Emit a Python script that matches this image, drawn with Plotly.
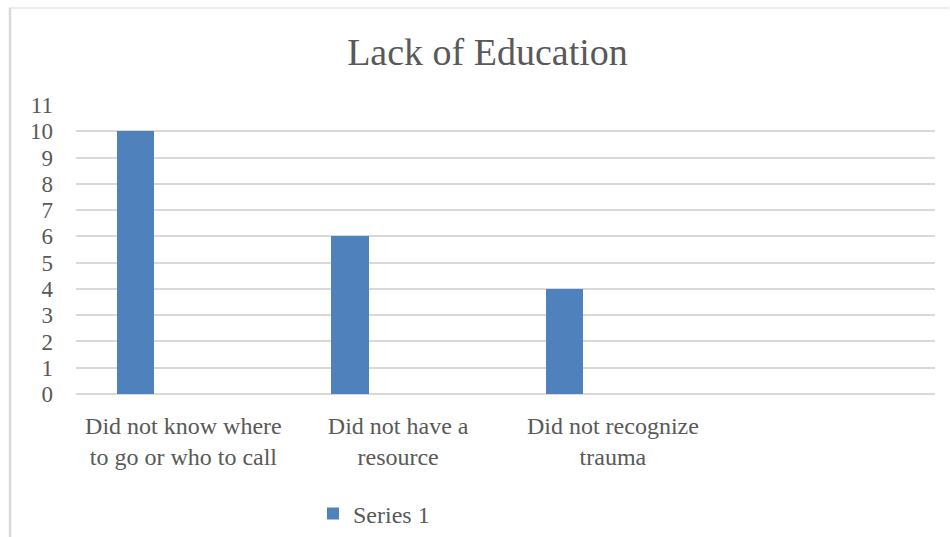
import plotly.graph_objects as go

# Survey responses: reasons grouped under "Lack of Education"
categories = [
    "Did not know where to go or who to call",
    "Did not have a resource",
    "Did not recognize trauma",
]
tick_labels = [
    "Did not know where<br>to go or who to call",
    "Did not have a<br>resource",
    "Did not recognize<br>trauma",
]
series_1 = [10, 6, 4]
y_ticks = list(range(0, 12))

FONT = "Liberation Serif"
TEXT = "#595959"
GRID = "#d9d9d9"
BAR = "#4f81bd"

W, H = 950, 537
L, R, T, B = 76, 15, 105, 143

positions = list(range(len(categories)))

fig = go.Figure()
fig.add_trace(go.Bar(
    x=positions,
    y=series_1,
    name="Series 1",
    customdata=categories,
    hovertemplate="%{customdata}: %{y}<extra></extra>",
    marker=dict(color=BAR, line=dict(width=0)),
    width=0.174,
    offset=-0.311,
))

# helpers for the chart-area frame (paper coordinates from pixels)
pw, ph = W - L - R, H - T - B
def px_x(p):
    return (p - L) / pw
def px_y(p):
    return (H - B - p) / ph

fig.add_shape(type="line", xref="paper", yref="paper",
              x0=px_x(10), x1=px_x(10), y0=px_y(8), y1=px_y(560),
              line=dict(color=GRID, width=2.5))
fig.add_shape(type="line", xref="paper", yref="paper",
              x0=px_x(9), x1=px_x(949), y0=px_y(8), y1=px_y(8),
              line=dict(color=GRID, width=1.2))

fig.update_layout(
    width=W, height=H,
    margin=dict(l=L, r=R, t=T, b=B, pad=0, autoexpand=False),
    paper_bgcolor="white",
    plot_bgcolor="white",
    font=dict(family=FONT, color=TEXT, size=24),
    title=dict(text="Lack of Education", x=487.5 / W, xref="container",
               xanchor="center", y=1 - 52 / H, yref="container", yanchor="middle",
               font=dict(family=FONT, size=38, color=TEXT)),
    showlegend=True,
    legend=dict(orientation="h", xref="container", x=313 / W, xanchor="left",
                yref="container", y=1 - 514 / H, yanchor="middle",
                font=dict(family=FONT, size=24, color=TEXT),
                bgcolor="rgba(0,0,0,0)"),
    bargap=0,
)
fig.update_xaxes(
    type="linear", range=[-0.5, 3.5], automargin=False,
    tickvals=positions, ticktext=tick_labels,
    showgrid=False, zeroline=False, showline=False, ticks="",
    ticklabelstandoff=15,
    tickfont=dict(family=FONT, size=24, color=TEXT),
)
fig.update_yaxes(
    range=[0, 11], tickvals=y_ticks, automargin=False,
    showgrid=True, gridcolor=GRID, gridwidth=1.5,
    zeroline=True, zerolinecolor=GRID, zerolinewidth=1.5,
    showline=False, ticks="", ticklabelstandoff=22,
    tickfont=dict(family=FONT, size=23, color=TEXT),
)

fig.write_html("out.html")
